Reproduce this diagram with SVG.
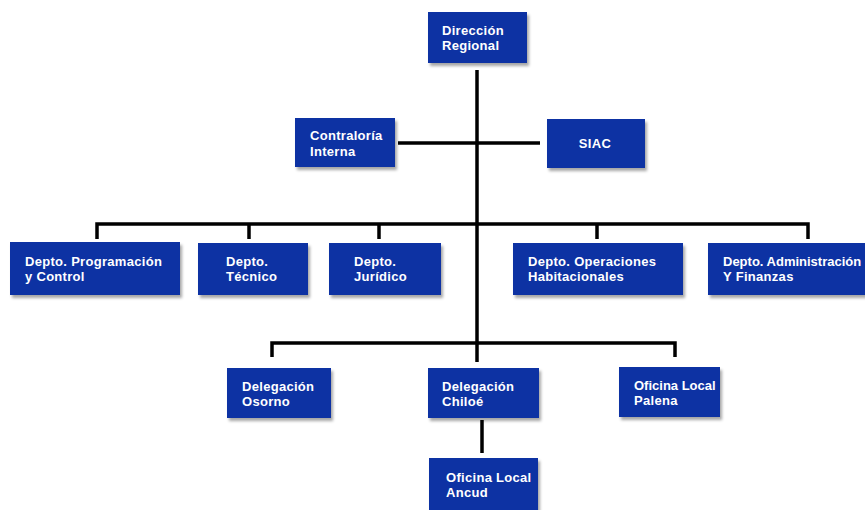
<svg xmlns="http://www.w3.org/2000/svg" width="865" height="510" viewBox="0 0 865 510">
<defs>
<filter id="sh" x="-10%" y="-10%" width="130%" height="140%">
<feDropShadow dx="2" dy="3" stdDeviation="1.5" flood-color="#000" flood-opacity="0.35"/>
</filter>
</defs>
<style>
.box{fill:#0a33a3;filter:url(#sh);}
.t{font-family:"Liberation Sans",Arial,sans-serif;font-weight:bold;font-size:13px;letter-spacing:0.3px;fill:#ffffff;}
.tight{letter-spacing:0;}
.ln{stroke:#000;stroke-width:3.5;fill:none;stroke-linecap:butt;}
</style>
<rect width="865" height="510" fill="#ffffff"/>
<g id="connectors">
<line class="ln" x1="477" y1="70" x2="477" y2="362"/>
<line class="ln" x1="398" y1="143" x2="540" y2="143"/>
<polyline class="ln" points="97,239 97,224 808,224 808,239"/>
<line class="ln" x1="249" y1="224" x2="249" y2="239"/>
<line class="ln" x1="379" y1="224" x2="379" y2="239"/>
<line class="ln" x1="597" y1="224" x2="597" y2="239"/>
<polyline class="ln" points="272,357 272,343 675,343 675,357"/>
<line class="ln" x1="482" y1="420" x2="482" y2="453"/>
</g>
<g id="direccion"><rect class="box" x="428" y="12" width="99" height="51"/><text class="t" x="442" y="35">Dirección</text><text class="t" x="442" y="50">Regional</text></g>
<g id="contraloria"><rect class="box" x="295" y="118" width="100" height="49"/><text class="t" x="310" y="140">Contraloría</text><text class="t" x="310" y="156">Interna</text></g>
<g id="siac"><rect class="box" x="547" y="119" width="98" height="49"/><text class="t" x="595" y="148" text-anchor="middle">SIAC</text></g>
<g id="programacion"><rect class="box" x="10" y="242" width="170" height="53"/><text class="t" x="25" y="266">Depto. Programación</text><text class="t" x="25" y="281">y Control</text></g>
<g id="tecnico"><rect class="box" x="198" y="243" width="110" height="52"/><text class="t" x="226" y="266">Depto.</text><text class="t" x="226" y="281">Técnico</text></g>
<g id="juridico"><rect class="box" x="329" y="243" width="112" height="52"/><text class="t" x="354" y="266">Depto.</text><text class="t" x="354" y="281">Jurídico</text></g>
<g id="operaciones"><rect class="box" x="513" y="243" width="170" height="52"/><text class="t" x="528" y="266">Depto. Operaciones</text><text class="t" x="528" y="281">Habitacionales</text></g>
<g id="administracion"><rect class="box" x="708" y="243" width="170" height="52"/><text class="t tight" x="723" y="266">Depto. Administración</text><text class="t" x="723" y="281">Y Finanzas</text></g>
<g id="osorno"><rect class="box" x="227" y="368" width="104" height="50"/><text class="t" x="242" y="391">Delegación</text><text class="t" x="242" y="406">Osorno</text></g>
<g id="chiloe"><rect class="box" x="428" y="368" width="111" height="50"/><text class="t" x="442" y="391">Delegación</text><text class="t" x="442" y="406">Chiloé</text></g>
<g id="palena"><rect class="box" x="619" y="367" width="101" height="50"/><text class="t tight" x="634" y="390">Oficina Local</text><text class="t" x="634" y="405">Palena</text></g>
<g id="ancud"><rect class="box" x="429" y="458" width="109" height="52"/><text class="t" x="446" y="482">Oficina Local</text><text class="t" x="446" y="497">Ancud</text></g>
</svg>
